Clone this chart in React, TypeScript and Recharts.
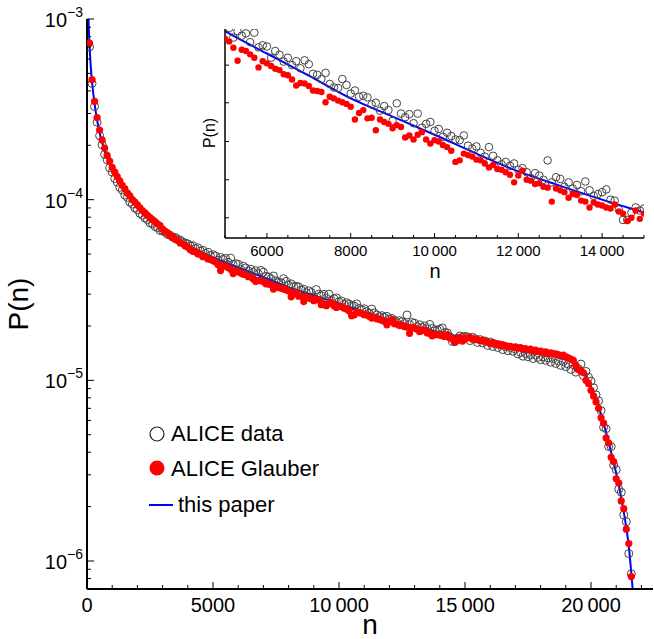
import {
  ComposedChart,
  Scatter,
  Line,
  XAxis,
  YAxis,
  Legend,
} from "recharts";

// multiplicity bins n (bin centres)
const binN = [
  100, 200, 300, 400, 500, 600, 700, 800, 900, 1000,
  1100, 1200, 1300, 1400, 1500, 1600, 1700, 1800, 1900, 2000,
  2100, 2200, 2300, 2400, 2500, 2600, 2700, 2800, 2900, 3000,
  3100, 3200, 3300, 3400, 3500, 3600, 3700, 3800, 3900, 4000,
  4100, 4200, 4300, 4400, 4500, 4600, 4700, 4800, 4900, 5000,
  5100, 5200, 5300, 5400, 5500, 5600, 5700, 5800, 5900, 6000,
  6100, 6200, 6300, 6400, 6500, 6600, 6700, 6800, 6900, 7000,
  7100, 7200, 7300, 7400, 7500, 7600, 7700, 7800, 7900, 8000,
  8100, 8200, 8300, 8400, 8500, 8600, 8700, 8800, 8900, 9000,
  9100, 9200, 9300, 9400, 9500, 9600, 9700, 9800, 9900, 10000,
  10100, 10200, 10300, 10400, 10500, 10600, 10700, 10800, 10900, 11000,
  11100, 11200, 11300, 11400, 11500, 11600, 11700, 11800, 11900, 12000,
  12100, 12200, 12300, 12400, 12500, 12600, 12700, 12800, 12900, 13000,
  13100, 13200, 13300, 13400, 13500, 13600, 13700, 13800, 13900, 14000,
  14100, 14200, 14300, 14400, 14500, 14600, 14700, 14800, 14900, 15000,
  15100, 15200, 15300, 15400, 15500, 15600, 15700, 15800, 15900, 16000,
  16100, 16200, 16300, 16400, 16500, 16600, 16700, 16800, 16900, 17000,
  17100, 17200, 17300, 17400, 17500, 17600, 17700, 17800, 17900, 18000,
  18100, 18200, 18300, 18400, 18500, 18600, 18700, 18800, 18900, 19000,
  19100, 19200, 19300, 19400, 19500, 19600, 19700, 19800, 19900, 20000,
  20100, 20200, 20300, 20400, 20500, 20600, 20700, 20800, 20900, 21000,
  21100, 21200, 21300, 21400, 21500, 21600, 21700,
];

// P(n) x 10^6, ALICE data (open circles)
const aliceData = [
  700, 440, 328, 268, 226, 201, 178, 166, 150, 142,
  131, 125, 117, 113, 106, 103, 97, 94.5, 90, 88,
  84, 82, 79, 77.5, 74.5, 73.5, 71, 70, 67.5, 67.5,
  66.0, 64.2, 63.5, 62.0, 61.8, 60.4, 59.6, 58.3, 57.6, 56.9,
  55.5, 55.6, 53.6, 54.1, 52.0, 52.4, 50.3, 51.2, 49.0, 49.5,
  48.8, 46.2, 47.9, 46.7, 47.3, 45.0, 47.5, 43.7, 44.2, 43.9,
  41.2, 42.8, 41.9, 40.3, 41.2, 39.5, 40.4, 38.8, 40.6, 39.7,
  37.6, 37.4, 36.5, 37.8, 35.5, 34.8, 34.7, 36.5, 35.3, 33.6,
  34.2, 33.0, 33.2, 32.9, 31.6, 31.9, 30.5, 31.3, 30.6, 28.8,
  31.8, 30.0, 29.4, 29.9, 28.4, 30.0, 27.7, 28.3, 28.6, 27.2,
  27.5, 26.3, 26.9, 26.4, 25.9, 25.8, 26.5, 25.0, 24.6, 24.9,
  24.0, 23.5, 24.8, 23.6, 23.0, 22.5, 22.8, 22.3, 22.6, 21.8,
  22.0, 21.5, 20.8, 21.4, 21.1, 20.6, 23.0, 20.3, 20.9, 20.7,
  19.8, 20.3, 19.6, 20.0, 19.3, 20.4, 19.4, 18.8, 19.0, 19.2,
  19.5, 18.4, 18.3, 17.4, 16.4, 16.4, 17.1, 17.6, 17.3, 17.5,
  17.4, 16.6, 17.3, 17.0, 16.2, 16.8, 16.1, 16.5, 15.6, 16.3,
  15.4, 15.9, 15.2, 15.7, 14.8, 15.4, 14.6, 15.2, 14.5, 14.9,
  14.0, 14.3, 13.6, 14.1, 13.5, 13.9, 13.2, 13.8, 13.4, 13.0,
  13.5, 12.9, 13.3, 12.6, 13.2, 12.4, 12.8, 12.1, 12.7, 11.9,
  12.3, 11.5, 12.2, 11.1, 11.6, 12.3, 10.6, 11.2, 10.4, 9.9,
  9.1, 8.3, 7.7, 6.8, 5.5, 5.4, 4.3, 4.3, 3.4, 3.2,
  2.5, 2.4, 1.8, 1.65, 1.1, 0.85, 0.6,
];

// P(n) x 10^6, ALICE Glauber (red dots)
const aliceGlauber = [
  735, 462, 350, 285, 243, 214, 193, 176, 163, 151,
  142, 134, 127, 120, 115, 109, 105, 100, 97, 93.5,
  90, 87, 84.5, 82, 79.5, 77.5, 75.5, 73.5, 71.8, 68.8,
  66.8, 65.6, 63.2, 62.1, 60.3, 59.5, 57.6, 57.0, 55.4, 54.6,
  52.9, 51.8, 51.4, 50.0, 49.8, 48.3, 48.1, 47.0, 46.8, 45.9,
  45.2, 43.6, 40.5, 43.1, 42.8, 42.0, 41.2, 39.0, 40.4, 39.9,
  39.3, 38.7, 38.4, 37.5, 37.3, 36.4, 35.2, 35.7, 35.6, 35.1,
  34.2, 34.1, 33.9, 32.0, 33.0, 32.7, 32.3, 32.0, 31.7, 31.2,
  29.0, 30.1, 30.6, 29.2, 29.3, 27.3, 29.0, 28.6, 28.3, 27.6,
  28.1, 27.8, 26.2, 26.5, 25.9, 26.6, 27.0, 25.9, 25.3, 25.8,
  25.6, 25.1, 24.8, 24.3, 22.8, 23.0, 23.9, 23.7, 23.5, 23.1,
  23.0, 22.6, 22.1, 22.4, 21.9, 21.8, 21.5, 21.2, 20.3, 21.1,
  21.7, 20.6, 20.5, 20.1, 20.2, 19.8, 19.7, 18.2, 19.6, 19.4,
  19.2, 18.6, 19.0, 18.9, 18.3, 18.2, 17.6, 18.1, 17.9, 17.8,
  17.6, 17.5, 17.9, 17.2, 17.0, 16.3, 16.6, 17.3, 16.5, 17.0,
  17.2, 17.3, 16.9, 16.9, 16.8, 16.6, 16.7, 16.4, 16.3, 16.0,
  16.2, 15.9, 15.9, 15.6, 15.7, 15.5, 15.4, 15.4, 15.2, 15.3,
  15.1, 15.2, 14.9, 15.0, 14.8, 14.9, 14.6, 14.7, 14.4, 14.5,
  14.3, 14.4, 14.1, 14.2, 14.0, 14.0, 13.9, 13.7, 13.8, 13.5,
  13.3, 13.1, 12.9, 12.1, 11.5, 11.2, 11.0, 10.0, 9.6, 8.8,
  8.2, 7.6, 7.0, 6.2, 5.8, 4.8, 4.5, 3.75, 3.55, 2.85,
  2.7, 2.15, 1.95, 1.5, 1.25, 0.82, 0.62,
];

// "this paper" curve, P(n) x 10^6
const curveN = [
  40, 50, 70, 100, 150, 200, 300, 400, 500, 700,
  1000, 1300, 1700, 2000, 2500, 3000, 3500, 4000, 4500, 5000,
  6000, 7000, 8000, 9000, 10000, 11000, 12000, 13000, 14000, 15000,
  16000, 17000, 18000, 18500, 19000, 19300, 19500, 19700, 19900, 20100,
  20300, 20500, 20700, 20900, 21100, 21300, 21500, 21700,
];
const curveP = [
  1320, 1137, 900, 715, 545, 450, 340, 276, 235, 186,
  146, 122, 101, 90, 77.1, 68.1, 61.2, 55.8, 51.5, 47.9,
  42.2, 37.2, 32.7, 29.5, 26.6, 23.9, 21.6, 19.9, 18.4, 17.1,
  15.9, 14.8, 14.0, 13.6, 13.0, 12.6, 11.9, 11.2, 9.9, 8.5,
  7.2, 5.75, 4.55, 3.5, 2.64, 1.87, 1.2, 0.58,
];

const mainXTicks = [
  0, 1000, 2000, 3000, 4000, 5000, 6000, 7000, 8000, 9000, 10000, 11000,
  12000, 13000, 14000, 15000, 16000, 17000, 18000, 19000, 20000, 21000, 22000,
];
const mainYTicks = [
  7e-7, 8e-7, 9e-7, 1e-6, 2e-6, 3e-6, 4e-6, 5e-6, 6e-6, 7e-6, 8e-6, 9e-6,
  1e-5, 2e-5, 3e-5, 4e-5, 5e-5, 6e-5, 7e-5, 8e-5, 9e-5,
  1e-4, 2e-4, 3e-4, 4e-4, 5e-4, 6e-4, 7e-4, 8e-4, 9e-4, 1e-3,
];
const insetXTicks = [
  5000, 5500, 6000, 6500, 7000, 7500, 8000, 8500, 9000, 9500, 10000,
  10500, 11000, 11500, 12000, 12500, 13000, 13500, 14000, 14500, 15000,
];
const insetYTicks = [1.66e-5, 2.06e-5, 2.56e-5, 3.19e-5, 3.95e-5];

const dataRows = binN.map((n, i) => ({ n, p: aliceData[i] * 1e-6 }));
const glauberRows = binN.map((n, i) => ({ n, p: aliceGlauber[i] * 1e-6 }));
const curveRows = curveN.map((n, i) => ({ n, p: curveP[i] * 1e-6 }));

const FONT = '"Liberation Sans", Arial, Helvetica, sans-serif';
const frame = { stroke: "#000", strokeWidth: 2 };
const insetFrame = { stroke: "#000", strokeWidth: 1.5 };

const fmtN = (v: number) =>
  v >= 10000 ? `${Math.floor(v / 1000)}\u2009${String(v % 1000).padStart(3, "0")}` : String(v);

const isDecade = (v: number) => {
  const e = Math.round(Math.log10(v));
  return Math.abs(v - Math.pow(10, e)) / v < 1e-6;
};

// main chart ticks (pointing inwards)
const mainBottomTick = (p: any) => {
  const { x, y, payload } = p;
  const major = payload.value % 5000 === 0;
  return (
    <g>
      <line x1={x} x2={x} y1={y} y2={y - (major ? 7 : 4)} stroke="#000" />
      {major && (
        <text x={x} y={y + 23} textAnchor="middle" fontSize={20} fontFamily={FONT} fill="#000">
          {fmtN(payload.value)}
        </text>
      )}
    </g>
  );
};
const mainTopTick = (p: any) => {
  const { x, y, payload } = p;
  const major = payload.value % 5000 === 0;
  return <line x1={x} x2={x} y1={y} y2={y + (major ? 7 : 4)} stroke="#000" />;
};
const mainLeftTick = (p: any) => {
  const { x, y, payload } = p;
  const major = isDecade(payload.value);
  const e = Math.round(Math.log10(payload.value));
  return (
    <g>
      <line x1={x} x2={x + (major ? 7 : 4)} y1={y} y2={y} stroke="#000" />
      {major && (
        <text x={x - 4} y={y + 8} textAnchor="end" fontFamily={FONT} fill="#000">
          <tspan fontSize={20}>10</tspan>
          <tspan fontSize={14} dy={-10}>{`\u2212${-e}`}</tspan>
        </text>
      )}
    </g>
  );
};
const mainRightTick = (p: any) => {
  const { x, y, payload } = p;
  const major = isDecade(payload.value);
  return <line x1={x} x2={x - (major ? 7 : 4)} y1={y} y2={y} stroke="#000" />;
};

// inset ticks
const insetBottomTick = (p: any) => {
  const { x, y, payload } = p;
  const major = payload.value % 2000 === 0;
  return (
    <g>
      <line x1={x} x2={x} y1={y} y2={y - (major ? 5 : 3)} stroke="#000" />
      {major && (
        <text x={x} y={y + 18} textAnchor="middle" fontSize={15} fontFamily={FONT} fill="#000">
          {fmtN(payload.value)}
        </text>
      )}
    </g>
  );
};
const insetTopTick = (p: any) => {
  const { x, y, payload } = p;
  const major = payload.value % 2000 === 0;
  return <line x1={x} x2={x} y1={y} y2={y + (major ? 5 : 3)} stroke="#000" />;
};
const insetLeftTick = (p: any) => <line x1={p.x} x2={p.x + 4} y1={p.y} y2={p.y} stroke="#000" />;
const insetRightTick = (p: any) => <line x1={p.x} x2={p.x - 4} y1={p.y} y2={p.y} stroke="#000" />;

const openCircle = (r: number) => (p: any) =>
  <circle cx={p.cx} cy={p.cy} r={r} fill="none" stroke="#444" strokeWidth={1} />;
const redDot = (r: number) => (p: any) => <circle cx={p.cx} cy={p.cy} r={r} fill="#ff0000" />;

function LegendBox() {
  return (
    <svg width={200} height={110} style={{ display: "block" }}>
      <circle cx={17} cy={19} r={7} fill="none" stroke="#222" strokeWidth={1.2} />
      <text x={31} y={26} fontSize={22} fontFamily={FONT} fill="#000">ALICE data</text>
      <circle cx={17} cy={53} r={7.5} fill="#ff0000" />
      <text x={31} y={61} fontSize={22} fontFamily={FONT} fill="#000">ALICE Glauber</text>
      <line x1={9} x2={33} y1={90} y2={90} stroke="#0000ff" strokeWidth={2} />
      <text x={38} y={97} fontSize={22} fontFamily={FONT} fill="#000">this paper</text>
    </svg>
  );
}

export default function App() {
  return (
    <div style={{ position: "absolute", left: 0, top: 0, width: 654, height: 639, background: "#fff", fontFamily: FONT }}>
      <ComposedChart width={654} height={639} margin={{ top: 19, right: 1, bottom: 0, left: 0 }}>
        <XAxis
          xAxisId="b" dataKey="n" type="number" domain={[0, 22460]} ticks={mainXTicks} interval={0}
          allowDataOverflow height={50} tickSize={0} tickMargin={0} tickLine={false} axisLine={frame} tick={mainBottomTick}
        />
        <XAxis
          xAxisId="t" orientation="top" type="number" domain={[0, 22460]} ticks={mainXTicks} interval={0}
          allowDataOverflow height={0} tickSize={0} tickMargin={0} tickLine={false} axisLine={frame} tick={mainTopTick}
        />
        <YAxis
          yAxisId="l" dataKey="p" type="number" scale="log" domain={[7e-7, 1e-3]} ticks={mainYTicks} interval={0}
          allowDataOverflow width={87} tickSize={0} tickMargin={0} tickLine={false} axisLine={frame} tick={mainLeftTick}
        />
        <YAxis
          yAxisId="r" orientation="right" type="number" scale="log" domain={[7e-7, 1e-3]} ticks={mainYTicks} interval={0}
          allowDataOverflow width={0} tickSize={0} tickMargin={0} tickLine={false} axisLine={frame} tick={mainRightTick}
        />
        <Scatter xAxisId="b" yAxisId="l" data={dataRows} shape={openCircle(4)} isAnimationActive={false} />
        <Scatter xAxisId="b" yAxisId="l" data={glauberRows} shape={redDot(3.6)} isAnimationActive={false} />
        <Line
          xAxisId="b" yAxisId="l" data={curveRows} dataKey="p" type="monotone"
          stroke="#0000ff" strokeWidth={2} dot={false} activeDot={false} isAnimationActive={false}
        />
        <Legend
          layout="horizontal" verticalAlign="middle" align="center"
          wrapperStyle={{ position: "absolute", left: 140, top: 415, width: 200, height: 110 }}
          content={() => <LegendBox />}
        />
      </ComposedChart>

      {/* inset */}
      <div style={{ position: "absolute", left: 0, top: 0 }}>
        <ComposedChart width={654} height={290} margin={{ top: 29, right: 10, bottom: 0, left: 0 }}>
          <XAxis
            xAxisId="b" dataKey="n" type="number" domain={[5000, 15000]} ticks={insetXTicks} interval={0}
            allowDataOverflow height={52} tickSize={0} tickMargin={0} tickLine={false} axisLine={insetFrame} tick={insetBottomTick}
          />
          <XAxis
            xAxisId="t" orientation="top" type="number" domain={[5000, 15000]} ticks={insetXTicks} interval={0}
            allowDataOverflow height={0} tickSize={0} tickMargin={0} tickLine={false} axisLine={insetFrame} tick={insetTopTick}
          />
          <YAxis
            yAxisId="l" dataKey="p" type="number" scale="log" domain={[1.48e-5, 4.85e-5]} ticks={insetYTicks} interval={0}
            allowDataOverflow width={225} tickSize={0} tickMargin={0} tickLine={false} axisLine={insetFrame} tick={insetLeftTick}
          />
          <YAxis
            yAxisId="r" orientation="right" type="number" scale="log" domain={[1.48e-5, 4.85e-5]} ticks={insetYTicks} interval={0}
            allowDataOverflow width={0} tickSize={0} tickMargin={0} tickLine={false} axisLine={insetFrame} tick={insetRightTick}
          />
          <Scatter xAxisId="b" yAxisId="l" data={dataRows} shape={openCircle(3.8)} isAnimationActive={false} />
          <Scatter xAxisId="b" yAxisId="l" data={glauberRows} shape={redDot(3.2)} isAnimationActive={false} />
          <Line
            xAxisId="b" yAxisId="l" data={curveRows} dataKey="p" type="monotone"
            stroke="#0000ff" strokeWidth={2} dot={false} activeDot={false} isAnimationActive={false}
          />
        </ComposedChart>
      </div>

      {/* axis titles */}
      <div style={{ position: "absolute", left: 19, top: 304, transform: "translate(-50%, -50%) rotate(-90deg)", fontSize: 28, lineHeight: 1, whiteSpace: "nowrap" }}>
        P(n)
      </div>
      <div style={{ position: "absolute", left: 370, top: 625, transform: "translate(-50%, -50%)", fontSize: 28, lineHeight: "16px" }}>
        n
      </div>
      <div style={{ position: "absolute", left: 210, top: 133, transform: "translate(-50%, -50%) rotate(-90deg)", fontSize: 16, lineHeight: 1, whiteSpace: "nowrap" }}>
        P(n)
      </div>
      <div style={{ position: "absolute", left: 435, top: 271, transform: "translate(-50%, -50%)", fontSize: 20, lineHeight: 1 }}>
        n
      </div>
    </div>
  );
}
